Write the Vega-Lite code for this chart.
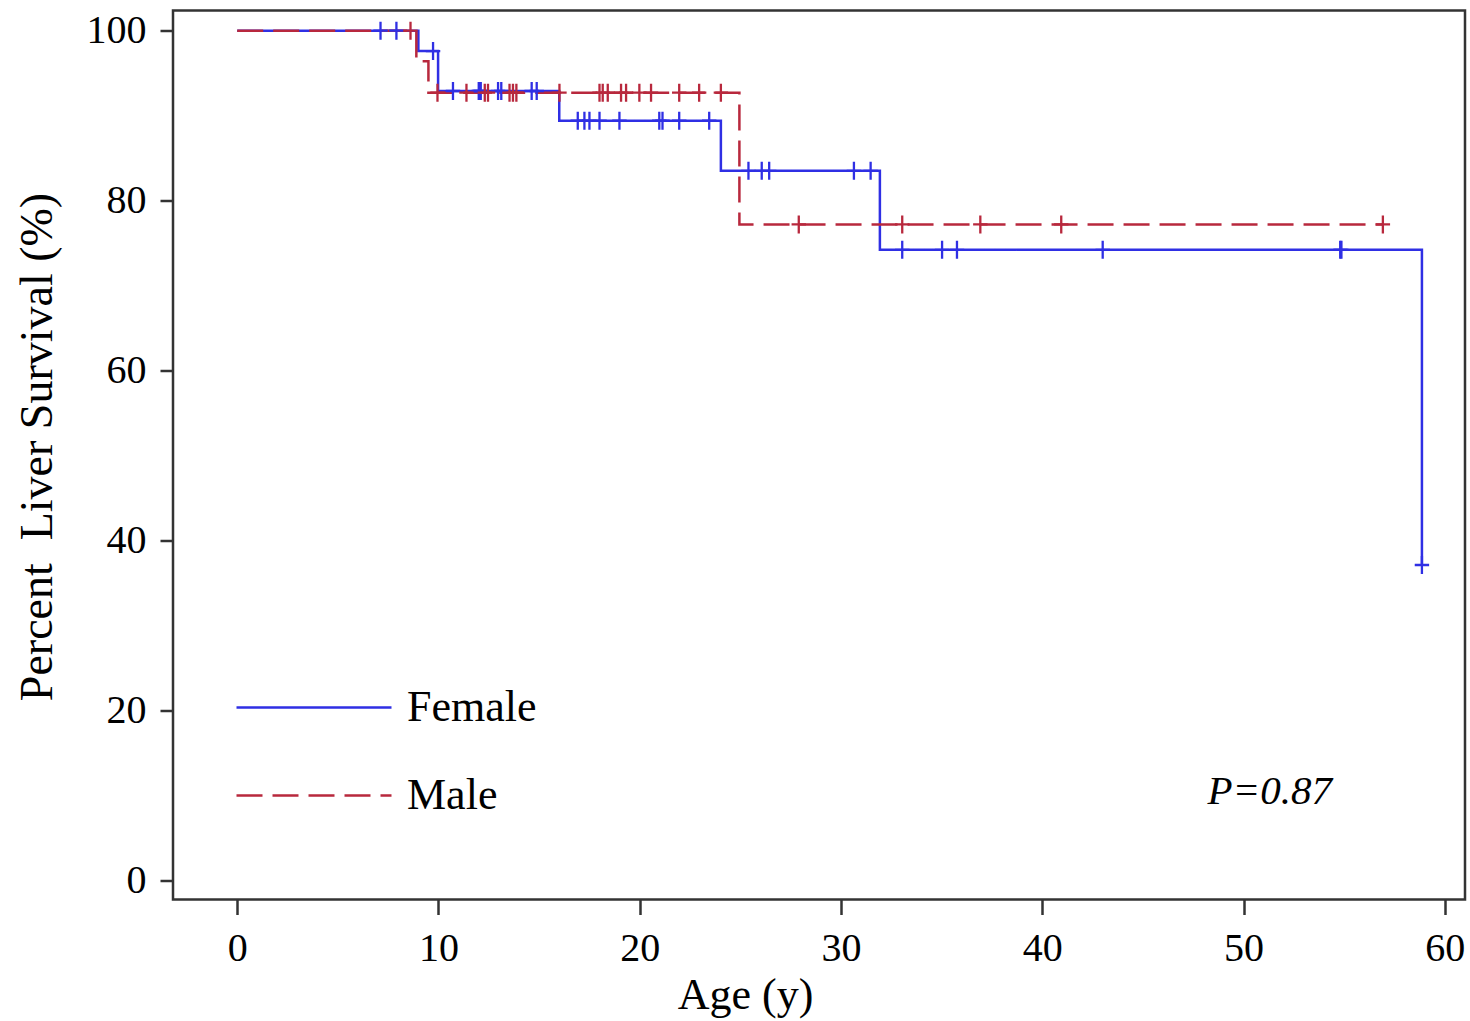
{
  "$schema": "https://vega.github.io/schema/vega-lite/v6.json",
  "autosize": {"type": "none"},
  "padding": {"left": 173, "top": 10.5, "right": 5, "bottom": 121},
  "width": 1292,
  "height": 889,
  "background": "white",
  "config": {
    "view": {"stroke": "#333333", "strokeWidth": 2.5},
    "font": "Liberation Serif",
    "axis": {
      "grid": false,
      "domain": false,
      "tickColor": "#333333",
      "tickWidth": 2.5,
      "labelFont": "Liberation Serif",
      "labelColor": "black",
      "labelFontSize": 40,
      "titleFont": "Liberation Serif",
      "titleFontSize": 44,
      "titleFontWeight": "normal",
      "titleColor": "black"
    },
    "legend": {
      "orient": "none",
      "legendX": 62,
      "legendY": 653,
      "padding": 0,
      "symbolType": "stroke",
      "symbolSize": 24025,
      "symbolStrokeWidth": 2.5,
      "clipHeight": 88,
      "rowPadding": 0,
      "labelFont": "Liberation Serif",
      "labelFontSize": 44,
      "labelColor": "black",
      "labelOffset": 14,
      "labelLimit": 400
    }
  },
  "datasets": {
    "curves": [
      {"sex": "Female", "age": 0, "surv": 100},
      {"sex": "Female", "age": 9.0, "surv": 97.6},
      {"sex": "Female", "age": 9.98, "surv": 92.9},
      {"sex": "Female", "age": 16.0, "surv": 89.4},
      {"sex": "Female", "age": 24.03, "surv": 83.5},
      {"sex": "Female", "age": 31.93, "surv": 74.2},
      {"sex": "Female", "age": 58.86, "surv": 37.1},
      {"sex": "Male", "age": 0, "surv": 100},
      {"sex": "Male", "age": 8.9, "surv": 96.4},
      {"sex": "Male", "age": 9.5, "surv": 92.7},
      {"sex": "Male", "age": 24.95, "surv": 77.2},
      {"sex": "Male", "age": 56.92, "surv": 77.2}
    ],
    "censor": [
      {"sex": "Female", "age": 7.12, "surv": 100},
      {"sex": "Female", "age": 7.91, "surv": 100},
      {"sex": "Female", "age": 9.73, "surv": 97.6},
      {"sex": "Female", "age": 10.72, "surv": 92.9},
      {"sex": "Female", "age": 12.0, "surv": 92.9},
      {"sex": "Female", "age": 12.05, "surv": 92.9},
      {"sex": "Female", "age": 12.1, "surv": 92.9},
      {"sex": "Female", "age": 12.96, "surv": 92.9},
      {"sex": "Female", "age": 13.12, "surv": 92.9},
      {"sex": "Female", "age": 14.63, "surv": 92.9},
      {"sex": "Female", "age": 14.88, "surv": 92.9},
      {"sex": "Female", "age": 16.92, "surv": 89.4},
      {"sex": "Female", "age": 17.25, "surv": 89.4},
      {"sex": "Female", "age": 17.5, "surv": 89.4},
      {"sex": "Female", "age": 18.0, "surv": 89.4},
      {"sex": "Female", "age": 18.99, "surv": 89.4},
      {"sex": "Female", "age": 20.97, "surv": 89.4},
      {"sex": "Female", "age": 21.13, "surv": 89.4},
      {"sex": "Female", "age": 21.96, "surv": 89.4},
      {"sex": "Female", "age": 23.45, "surv": 89.4},
      {"sex": "Female", "age": 25.4, "surv": 83.5},
      {"sex": "Female", "age": 26.06, "surv": 83.5},
      {"sex": "Female", "age": 26.43, "surv": 83.5},
      {"sex": "Female", "age": 30.64, "surv": 83.5},
      {"sex": "Female", "age": 31.47, "surv": 83.5},
      {"sex": "Female", "age": 33.04, "surv": 74.2},
      {"sex": "Female", "age": 35.02, "surv": 74.2},
      {"sex": "Female", "age": 35.76, "surv": 74.2},
      {"sex": "Female", "age": 43.0, "surv": 74.2},
      {"sex": "Female", "age": 54.8, "surv": 74.2},
      {"sex": "Female", "age": 54.86, "surv": 74.2},
      {"sex": "Female", "age": 58.86, "surv": 37.1},
      {"sex": "Male", "age": 8.61, "surv": 100},
      {"sex": "Male", "age": 9.95, "surv": 92.7},
      {"sex": "Male", "age": 11.39, "surv": 92.7},
      {"sex": "Male", "age": 12.3, "surv": 92.7},
      {"sex": "Male", "age": 12.46, "surv": 92.7},
      {"sex": "Male", "age": 13.53, "surv": 92.7},
      {"sex": "Male", "age": 13.7, "surv": 92.7},
      {"sex": "Male", "age": 13.87, "surv": 92.7},
      {"sex": "Male", "age": 16.01, "surv": 92.7},
      {"sex": "Male", "age": 18.0, "surv": 92.7},
      {"sex": "Male", "age": 18.16, "surv": 92.7},
      {"sex": "Male", "age": 18.41, "surv": 92.7},
      {"sex": "Male", "age": 19.07, "surv": 92.7},
      {"sex": "Male", "age": 19.32, "surv": 92.7},
      {"sex": "Male", "age": 19.98, "surv": 92.7},
      {"sex": "Male", "age": 20.56, "surv": 92.7},
      {"sex": "Male", "age": 21.96, "surv": 92.7},
      {"sex": "Male", "age": 22.95, "surv": 92.7},
      {"sex": "Male", "age": 24.03, "surv": 92.7},
      {"sex": "Male", "age": 27.9, "surv": 77.2},
      {"sex": "Male", "age": 33.04, "surv": 77.2},
      {"sex": "Male", "age": 36.92, "surv": 77.2},
      {"sex": "Male", "age": 40.94, "surv": 77.2},
      {"sex": "Male", "age": 56.92, "surv": 77.2}
    ],
    "annot": [
      {"label": "P=0.87", "age": 51.3, "surv": 9.0}
    ]
  },
  "layer": [
    {
      "data": {"name": "curves"},
      "mark": {"type": "line", "interpolate": "step-after", "strokeWidth": 2.5},
      "encoding": {
        "x": {
          "field": "age", "type": "quantitative",
          "scale": {"domain": [-3.19, 61.0], "nice": false, "zero": false},
          "axis": {"values": [0, 10, 20, 30, 40, 50, 60], "title": "Age (y)", "tickSize": 15, "labelPadding": 14, "titlePadding": 5, "titleX": 572, "titleAnchor": "start", "titleAlign": "center"}
        },
        "y": {
          "field": "surv", "type": "quantitative",
          "scale": {"domain": [-2.28, 102.38], "nice": false, "zero": false},
          "axis": {"values": [0, 20, 40, 60, 80, 100], "title": "Percent\u00a0 Liver Survival (%)", "titleFontSize": 46, "tickSize": 13, "labelPadding": 14, "titlePadding": 25, "titleY": 436, "titleAnchor": "start", "titleAlign": "center"}
        },
        "color": {
          "field": "sex", "type": "nominal",
          "scale": {"domain": ["Female", "Male"], "range": ["#2f2fe4", "#b8283d"]},
          "legend": {"title": null}
        },
        "strokeDash": {
          "field": "sex", "type": "nominal",
          "scale": {"domain": ["Female", "Male"], "range": [[1, 0], [26, 10]]},
          "legend": {"title": null}
        },
        "order": {"field": "age", "type": "quantitative"}
      }
    },
    {
      "data": {"name": "censor"},
      "mark": {"type": "point", "shape": "M-0.8,0H0.8M0,-1V1", "filled": false, "strokeWidth": 2.3, "size": 324, "opacity": 1},
      "encoding": {
        "x": {"field": "age", "type": "quantitative"},
        "y": {"field": "surv", "type": "quantitative"},
        "color": {"field": "sex", "type": "nominal", "legend": null}
      }
    },
    {
      "data": {"name": "annot"},
      "mark": {"type": "text", "font": "Liberation Serif", "fontStyle": "italic", "fontSize": 41, "align": "center", "baseline": "alphabetic", "color": "black"},
      "encoding": {
        "x": {"field": "age", "type": "quantitative"},
        "y": {"field": "surv", "type": "quantitative"},
        "text": {"field": "label"}
      }
    }
  ]
}
